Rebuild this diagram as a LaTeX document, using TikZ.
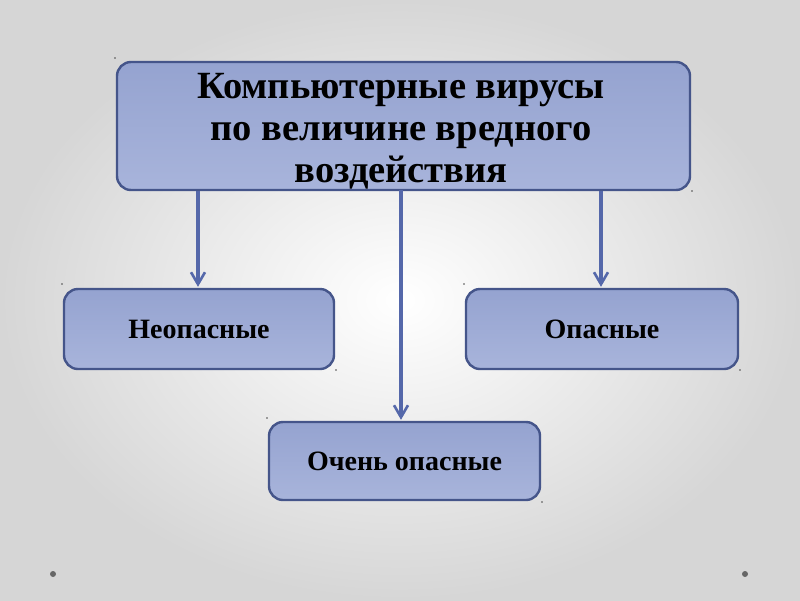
\documentclass[tikz,border=0pt]{standalone}
\usepackage{fontspec}
\setmainfont{Liberation Serif}
\usetikzlibrary{arrows.meta}
\definecolor{boxfillA}{HTML}{95A3D0}
\definecolor{boxfillB}{HTML}{A8B4DB}
\definecolor{boxline}{HTML}{45558A}
\definecolor{arrowc}{HTML}{5568AA}
\definecolor{bgedge}{HTML}{D6D6D6}
\tikzset{
  catbox/.style={draw=boxline, line width=2.4pt, rounded corners=14pt, top color=boxfillA, bottom color=boxfillB, text=black, font=\bfseries},
  link/.style={draw=arrowc, line width=3.2pt, -{Straight Barb[length=12pt,width=14pt,line width=2.6pt]}, shorten >=1pt},
  dotmark/.style={fill=gray!80!black, draw=none},
  tinydot/.style={fill=gray!60!black, draw=none}
}
\begin{document}
\begin{tikzpicture}[x=1pt,y=-1pt]
\useasboundingbox (0,0) rectangle (800,600);
\shade[inner color=white, outer color=bgedge] (0,0) rectangle (800,600);
\node[catbox, minimum width=573pt, minimum height=128pt] (top) at (403.5,126) {};
\node[align=center, font=\bfseries\fontsize{38.5}{42}\selectfont] (toptext) at (401,131) {Компьютерные вирусы\\по величине вредного\\воздействия};
\node[catbox, minimum width=270pt, minimum height=80pt, font=\bfseries\fontsize{28}{30}\selectfont] (safe) at (199,329) {Неопасные};
\node[catbox, minimum width=272pt, minimum height=80pt, font=\bfseries\fontsize{28}{30}\selectfont] (danger) at (602,329) {Опасные};
\node[catbox, minimum width=271pt, minimum height=78pt, font=\bfseries\fontsize{28}{30}\selectfont] (very) at (404.5,461) {Очень опасные};
\draw[link] (top.south -| safe.north) ++(-1,0) coordinate (a1) -- (a1 |- safe.north);
\draw[link] (401,190) coordinate (a2) -- (a2 |- very.north);
\draw[link] (top.south -| danger.north) ++(-1,0) coordinate (a3) -- (a3 |- danger.north);
\fill[dotmark] (53,574) circle (3pt);
\fill[dotmark] (745,574) circle (3pt);
\foreach \p in {(115,58),(692,191),(62,284),(336,370),(464,284),(740,370),(267,418),(542,502)}
  \fill[tinydot] \p circle (0.9pt);
\end{tikzpicture}
\end{document}
